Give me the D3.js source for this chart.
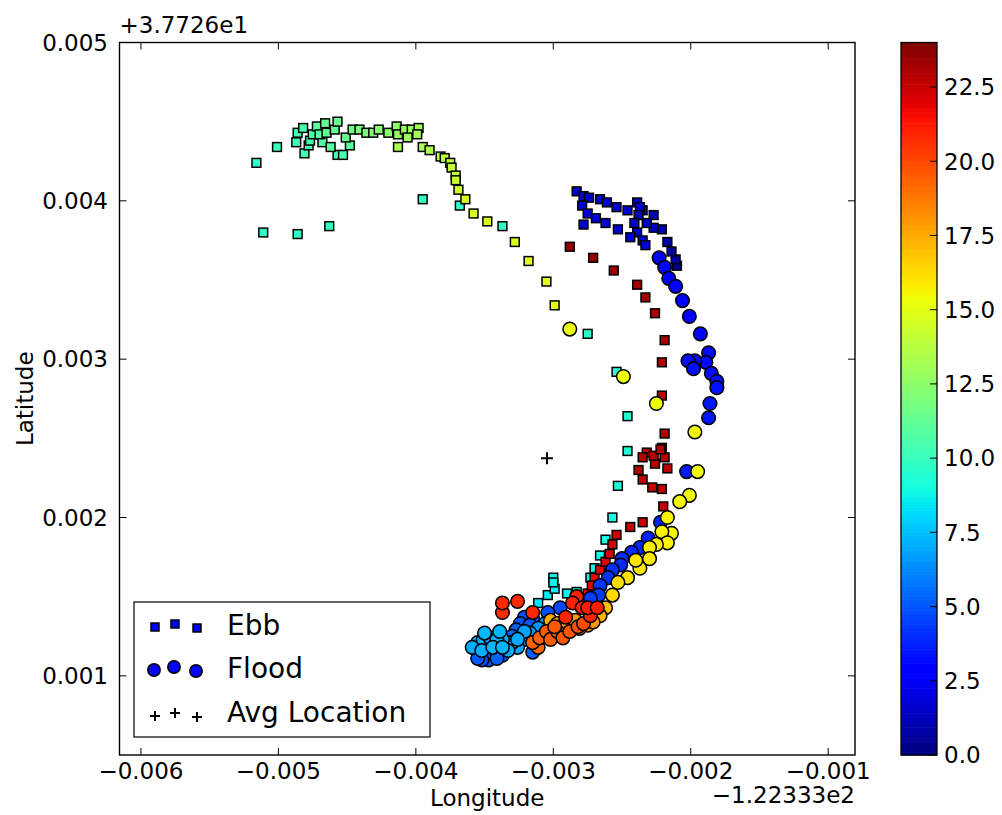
<!DOCTYPE html>
<html><head><meta charset="utf-8">
<script src="https://cdn.jsdelivr.net/npm/d3@7"></script>
<style>body{margin:0;background:#fff} text{font-family:"DejaVu Sans",sans-serif;fill:#000}</style>
</head><body><svg id="c" width="1002" height="815"></svg>
<script>
// ---- data (offsets: lon + -122.333, lat + 37.726), [lon, lat, hour] ----
const xTicks = [-0.006,-0.005,-0.004,-0.003,-0.002,-0.001];
const yTicks = [0.001,0.002,0.003,0.004,0.005];
const cTicks = [0,2.5,5,7.5,10,12.5,15,17.5,20,22.5];
const xOffsetLabel = "\u22121.22333e2";
const yOffsetLabel = "+3.7726e1";
const xLabel = "Longitude", yLabel = "Latitude";
const legendLabels = ["Ebb","Flood","Avg Location"];
const avgLocation = [[-0.003046, 0.002375]];
const ebb = [
[-0.00283,0.00406,1.6],[-0.00278,0.00403,1.6],[-0.00274,0.00402,1.6],[-0.00266,0.00401,1.6],
[-0.00261,0.00399,1.7],[-0.00254,0.00396,1.7],[-0.00246,0.00394,1.7],[-0.00239,0.00399,1.4],
[-0.00237,0.00396,1.5],[-0.00238,0.00391,1.5],[-0.00227,0.00391,1.2],[-0.00279,0.00397,1.8],
[-0.00275,0.00392,1.8],[-0.00269,0.00389,1.8],[-0.00262,0.00386,1.8],[-0.00253,0.00382,1.9],
[-0.00244,0.00377,1.9],[-0.00235,0.00375,1.9],[-0.00233,0.00372,2.0],[-0.00278,0.00385,1.8],
[-0.00241,0.00386,1.5],[-0.00232,0.00386,1.3],[-0.00227,0.00383,1.1],[-0.00221,0.00382,0.9],
[-0.00217,0.00374,0.7],[-0.00214,0.00368,0.6],[-0.00211,0.00363,0.5],[-0.00210,0.00359,0.4],
[-0.00239,0.00380,1.6],[-0.00235,0.00394,1.4],
[-0.00516,0.00424,9.8],[-0.00501,0.00434,10.0],[-0.00486,0.00443,10.3],[-0.00487,0.00437,10.3],
[-0.00481,0.00430,10.4],[-0.00478,0.00435,10.5],[-0.00475,0.00442,10.8],[-0.00472,0.00447,11.0],
[-0.00466,0.00449,11.3],[-0.00470,0.00442,11.0],[-0.00465,0.00443,11.2],[-0.00468,0.00437,10.8],
[-0.00462,0.00434,11.0],[-0.00457,0.00450,11.5],[-0.00451,0.00440,11.4],[-0.00448,0.00435,11.0],
[-0.00457,0.00429,10.3],[-0.00453,0.00429,10.4],[-0.00446,0.00445,11.8],[-0.00441,0.00445,12.0],
[-0.00436,0.00443,12.1],[-0.00431,0.00443,12.2],[-0.00427,0.00445,12.3],[-0.00420,0.00443,12.4],
[-0.00414,0.00447,12.6],[-0.00413,0.00442,12.7],[-0.00408,0.00445,12.8],[-0.00403,0.00445,12.9],
[-0.00398,0.00446,13.0],[-0.00399,0.00442,13.1],[-0.00406,0.00440,13.0],[-0.00413,0.00434,13.4],
[-0.00395,0.00434,13.4],[-0.00390,0.00432,13.5],[-0.00382,0.00428,13.7],[-0.00379,0.00427,13.8],
[-0.00375,0.00424,13.9],[-0.00374,0.00421,14.0],[-0.00371,0.00416,14.1],[-0.00371,0.00413,14.2],
[-0.00369,0.00407,14.3],[-0.00364,0.00401,14.5],[-0.00368,0.00397,9.8],[-0.00358,0.00392,14.7],
[-0.00348,0.00387,14.8],[-0.00337,0.00384,9.8],[-0.00395,0.00401,9.9],[-0.00511,0.00380,9.7],
[-0.00486,0.00379,9.7],[-0.00463,0.00384,9.8],[-0.00477,0.00438,10.6],[-0.00459,0.00445,11.3],
[-0.00482,0.00446,10.5],
[-0.00328,0.00374,14.9],[-0.00318,0.00362,15.0],[-0.00305,0.00349,15.0],[-0.00299,0.00334,15.1],
[-0.00275,0.00316,9.6],[-0.00254,0.00292,9.5],[-0.00246,0.00264,9.4],[-0.00246,0.00242,9.3],
[-0.00253,0.00220,9.2],[-0.00257,0.00200,9.1],[-0.00262,0.00186,9.0],[-0.00266,0.00176,8.9],
[-0.00270,0.00168,8.9],[-0.00273,0.00162,8.8],[-0.00300,0.00162,8.7],[-0.00300,0.00159,8.7],
[-0.00299,0.00155,8.6],[-0.00304,0.00151,8.5],[-0.00311,0.00146,8.4],[-0.00290,0.00152,8.7],
[-0.00283,0.00153,8.8],
[-0.00288,0.00371,23.6],[-0.00271,0.00364,23.5],[-0.00256,0.00356,23.4],[-0.00239,0.00347,23.3],
[-0.00233,0.00339,23.2],[-0.00226,0.00329,23.1],[-0.00219,0.00312,23.1],[-0.00221,0.00298,23.0],
[-0.00221,0.00277,23.0],[-0.00219,0.00253,22.9],[-0.00221,0.00244,22.9],[-0.00232,0.00241,22.9],
[-0.00235,0.00238,22.9],[-0.00227,0.00239,22.9],[-0.00219,0.00238,22.9],[-0.00226,0.00234,22.8],
[-0.00217,0.00231,22.8],[-0.00238,0.00230,22.8],[-0.00235,0.00224,22.7],[-0.00228,0.00219,22.6],
[-0.00221,0.00218,22.7],[-0.00220,0.00207,22.6],[-0.00235,0.00197,22.5],[-0.00244,0.00194,22.5],
[-0.00254,0.00189,22.4],[-0.00257,0.00183,22.3],[-0.00259,0.00177,22.2],[-0.00262,0.00172,22.0],
[-0.00266,0.00167,21.9],[-0.00270,0.00162,21.8],[-0.00272,0.00157,21.8],[-0.00265,0.00157,21.8],
[-0.00275,0.00152,21.7],[-0.00222,0.00243,22.9]
];
const flood = [
[-0.00223,0.00364,2.6],[-0.00219,0.00358,2.7],[-0.00216,0.00351,2.8],[-0.00211,0.00346,2.9],
[-0.00206,0.00337,3.0],[-0.00201,0.00327,3.0],[-0.00193,0.00316,3.1],[-0.00187,0.00304,3.2],
[-0.00197,0.00299,3.3],[-0.00202,0.00299,3.3],[-0.00198,0.00294,3.3],[-0.00189,0.00298,3.2],
[-0.00185,0.00291,3.3],[-0.00181,0.00286,3.4],[-0.00181,0.00282,3.4],[-0.00186,0.00272,3.5],
[-0.00187,0.00263,3.5],[-0.00203,0.00229,3.6],[-0.00222,0.00197,3.8],[-0.00231,0.00187,3.8],
[-0.00237,0.00181,3.9],[-0.00243,0.00178,3.9],[-0.00250,0.00174,4.0],[-0.00251,0.00170,4.0],
[-0.00257,0.00167,4.1],[-0.00260,0.00162,4.2],[-0.00266,0.00157,4.3],[-0.00267,0.00151,4.4],
[-0.00273,0.00149,4.4],
[-0.00295,0.00143,4.7],[-0.00304,0.00140,4.8],[-0.00315,0.00136,4.9],[-0.00321,0.00137,4.9],
[-0.00324,0.00133,5.0],[-0.00317,0.00132,5.0],[-0.00327,0.00129,5.2],[-0.00330,0.00125,5.4],
[-0.00315,0.00115,5.2],[-0.00337,0.00113,5.2],[-0.00347,0.00110,5.0],[-0.00352,0.00110,5.0],
[-0.00355,0.00111,5.1],[-0.00341,0.00111,5.3],
[-0.00355,0.00121,7.0],[-0.00351,0.00123,7.1],[-0.00346,0.00124,7.2],[-0.00341,0.00123,7.2],
[-0.00337,0.00123,7.1],[-0.00330,0.00121,7.0],[-0.00326,0.00123,7.0],[-0.00352,0.00116,7.1],
[-0.00344,0.00118,7.2],[-0.00337,0.00118,7.2],[-0.00333,0.00116,7.0],[-0.00326,0.00118,6.9],
[-0.00321,0.00123,6.8],[-0.00317,0.00127,6.7],[-0.00321,0.00128,6.8],[-0.00350,0.00127,7.3],
[-0.00339,0.00128,7.2],[-0.00359,0.00118,7.0],[-0.00311,0.00130,6.5],[-0.00306,0.00133,6.4],
[-0.00288,0.00319,15.2],[-0.00249,0.00289,15.3],[-0.00225,0.00272,15.3],[-0.00197,0.00254,15.4],
[-0.00195,0.00229,15.4],[-0.00201,0.00214,15.5],[-0.00208,0.00210,15.5],[-0.00217,0.00200,15.6],
[-0.00221,0.00191,15.7],[-0.00214,0.00190,15.6],[-0.00225,0.00183,15.8],[-0.00217,0.00184,15.7],
[-0.00230,0.00174,15.9],[-0.00237,0.00168,16.0],[-0.00246,0.00162,16.1],[-0.00253,0.00159,16.2],
[-0.00257,0.00151,16.3],[-0.00230,0.00181,15.8],[-0.00240,0.00173,16.0],
[-0.00302,0.00135,17.5],[-0.00297,0.00133,17.6],[-0.00291,0.00134,17.8],[-0.00284,0.00135,17.8],
[-0.00275,0.00132,18.0],[-0.00271,0.00134,18.0],[-0.00266,0.00138,17.2],[-0.00262,0.00143,17.0],
[-0.00281,0.00130,18.2],
[-0.00305,0.00128,19.5],[-0.00297,0.00128,19.6],[-0.00310,0.00124,19.4],[-0.00315,0.00121,19.3],
[-0.00302,0.00123,19.5],[-0.00293,0.00124,19.6],[-0.00288,0.00128,19.7],[-0.00282,0.00131,19.8],
[-0.00278,0.00133,19.9],[-0.00311,0.00118,19.2],[-0.00299,0.00131,19.6],
[-0.00337,0.00146,20.8],[-0.00326,0.00147,20.8],[-0.00337,0.00140,20.7],[-0.00315,0.00140,20.9],
[-0.00283,0.00150,21.0],[-0.00286,0.00146,21.0],[-0.00279,0.00143,21.0],[-0.00291,0.00137,20.9],
[-0.00273,0.00138,21.0],[-0.00275,0.00143,21.1],[-0.00268,0.00143,21.1]
];
const hourDomain = [0, 24];

// ---- jet colormap (matplotlib segment data) ----
const jr = d3.scaleLinear().domain([0,0.35,0.66,0.89,1]).range([0,0,1,1,0.5]).clamp(true);
const jg = d3.scaleLinear().domain([0,0.125,0.375,0.64,0.91,1]).range([0,0,1,1,0,0]).clamp(true);
const jb = d3.scaleLinear().domain([0,0.11,0.34,0.65,1]).range([0.5,1,1,0,0]).clamp(true);
const jet = t => d3.rgb(jr(t)*255, jg(t)*255, jb(t)*255).toString();
const color = d3.scaleSequential(jet).domain(hourDomain);

const svg = d3.select("#c");
const L = 119.5, R = 855, T = 42.5, B = 755;
const x = d3.scaleLinear().domain([-0.006156, -0.000805]).range([L, R]);
const y = d3.scaleLinear().domain([0.0005, 0.005]).range([B, T]);
const fmt = v => (v < 0 ? "\u2212" : "") + Math.abs(v).toFixed(3);
const FS = 23;

const plot = svg.append("g");
plot.append("defs").append("clipPath").attr("id","clip")
  .append("rect").attr("x",L).attr("y",T).attr("width",R-L).attr("height",B-T);
const marks = plot.append("g").attr("clip-path","url(#clip)");

const SQ = 8.8, CR = 6.8, SW = 1.5;
const ebbSorted = ebb.slice().sort((a,b)=>a[2]-b[2]);
const floodSorted = flood.slice().sort((a,b)=>a[2]-b[2]);
marks.selectAll("rect.ebb").data(ebbSorted).join("rect").attr("class","ebb")
  .attr("x", d => x(d[0]) - SQ/2).attr("y", d => y(d[1]) - SQ/2)
  .attr("width", SQ).attr("height", SQ)
  .attr("fill", d => color(d[2])).attr("stroke","#000").attr("stroke-width",SW);
marks.selectAll("circle.flood").data(floodSorted).join("circle").attr("class","flood")
  .attr("cx", d => x(d[0])).attr("cy", d => y(d[1])).attr("r", CR)
  .attr("fill", d => color(d[2])).attr("stroke","#000").attr("stroke-width",SW);
marks.selectAll("path.avg").data(avgLocation).join("path").attr("class","avg")
  .attr("d", d => `M${x(d[0])-6},${y(d[1])}h12M${x(d[0])},${y(d[1])-6}v12`)
  .attr("stroke","#000").attr("stroke-width",2).attr("fill","none");

// frame
plot.append("rect").attr("x",L).attr("y",T).attr("width",R-L).attr("height",B-T)
  .attr("fill","none").attr("stroke","#000").attr("stroke-width",1.4);

const TL = 7;
xTicks.forEach(v => {
  const px = x(v);
  plot.append("line").attr("x1",px).attr("x2",px).attr("y1",B).attr("y2",B-TL).attr("stroke","#000").attr("stroke-width",1);
  plot.append("line").attr("x1",px).attr("x2",px).attr("y1",T).attr("y2",T+TL).attr("stroke","#000").attr("stroke-width",1);
  plot.append("text").attr("x",px).attr("y",779).attr("text-anchor","middle").attr("font-size",FS).text(fmt(v));
});
yTicks.forEach(v => {
  const py = y(v);
  plot.append("line").attr("x1",L).attr("x2",L+TL).attr("y1",py).attr("y2",py).attr("stroke","#000").attr("stroke-width",1);
  plot.append("line").attr("x1",R).attr("x2",R-TL).attr("y1",py).attr("y2",py).attr("stroke","#000").attr("stroke-width",1);
  plot.append("text").attr("x",108).attr("y",py).attr("dy","0.36em").attr("text-anchor","end").attr("font-size",FS).text(fmt(v));
});
plot.append("text").attr("x",L).attr("y",33).attr("font-size",FS).text(yOffsetLabel);
plot.append("text").attr("x",R).attr("y",803).attr("text-anchor","end").attr("font-size",FS).text(xOffsetLabel);
plot.append("text").attr("x",(L+R)/2).attr("y",806).attr("text-anchor","middle").attr("font-size",FS).text(xLabel);
plot.append("text").attr("transform",`translate(33,${(T+B)/2}) rotate(-90)`).attr("text-anchor","middle").attr("font-size",FS).text(yLabel);

// legend
const lg = svg.append("g");
lg.append("rect").attr("x",134).attr("y",602).attr("width",296).attr("height",135)
  .attr("fill","#fff").attr("stroke","#000").attr("stroke-width",1.2);
const lx = [155,175,197], lyOff = [3,0,4];
const rows = [624, 667, 713];
const LSQ = 8, LCR = 6.2;
lx.forEach((px,i) => {
  lg.append("rect").attr("x",px-LSQ/2).attr("y",rows[0]+lyOff[i]-LSQ/2).attr("width",LSQ).attr("height",LSQ)
    .attr("fill",color(3)).attr("stroke","#000").attr("stroke-width",SW);
  lg.append("circle").attr("cx",px-1).attr("cy",rows[1]+lyOff[i]).attr("r",LCR)
    .attr("fill",color(3)).attr("stroke","#000").attr("stroke-width",SW);
  const cyy = rows[2]+lyOff[i];
  lg.append("path").attr("d",`M${px-5},${cyy}h10M${px},${cyy-5}v10`).attr("stroke","#000").attr("stroke-width",2);
});
legendLabels.forEach((t,i) => {
  lg.append("text").attr("x",227).attr("y",[635,678,722][i]).attr("font-size",28).text(t);
});

// colorbar
const CL = 901, CRt = 937, CT = 42.5, CB = 755;
const cy = d3.scaleLinear().domain(hourDomain).range([CB, CT]);
const cb = svg.append("g");
const N = 256;
d3.range(N).forEach(i => {
  const v0 = hourDomain[0] + (hourDomain[1]-hourDomain[0])*i/N;
  const v1 = hourDomain[0] + (hourDomain[1]-hourDomain[0])*(i+1)/N;
  cb.append("rect").attr("x",CL).attr("width",CRt-CL).attr("y",cy(v1)).attr("height",cy(v0)-cy(v1)+0.6)
    .attr("fill",color((v0+v1)/2));
});
cb.append("rect").attr("x",CL).attr("y",CT).attr("width",CRt-CL).attr("height",CB-CT)
  .attr("fill","none").attr("stroke","#000").attr("stroke-width",1.3);
cTicks.forEach(v => {
  const py = cy(v);
  cb.append("line").attr("x1",CRt-7).attr("x2",CRt).attr("y1",py).attr("y2",py).attr("stroke","#000").attr("stroke-width",1);
  cb.append("text").attr("x",944).attr("y",py).attr("dy","0.36em").attr("font-size",FS).text(v.toFixed(1));
});
</script></body></html>
